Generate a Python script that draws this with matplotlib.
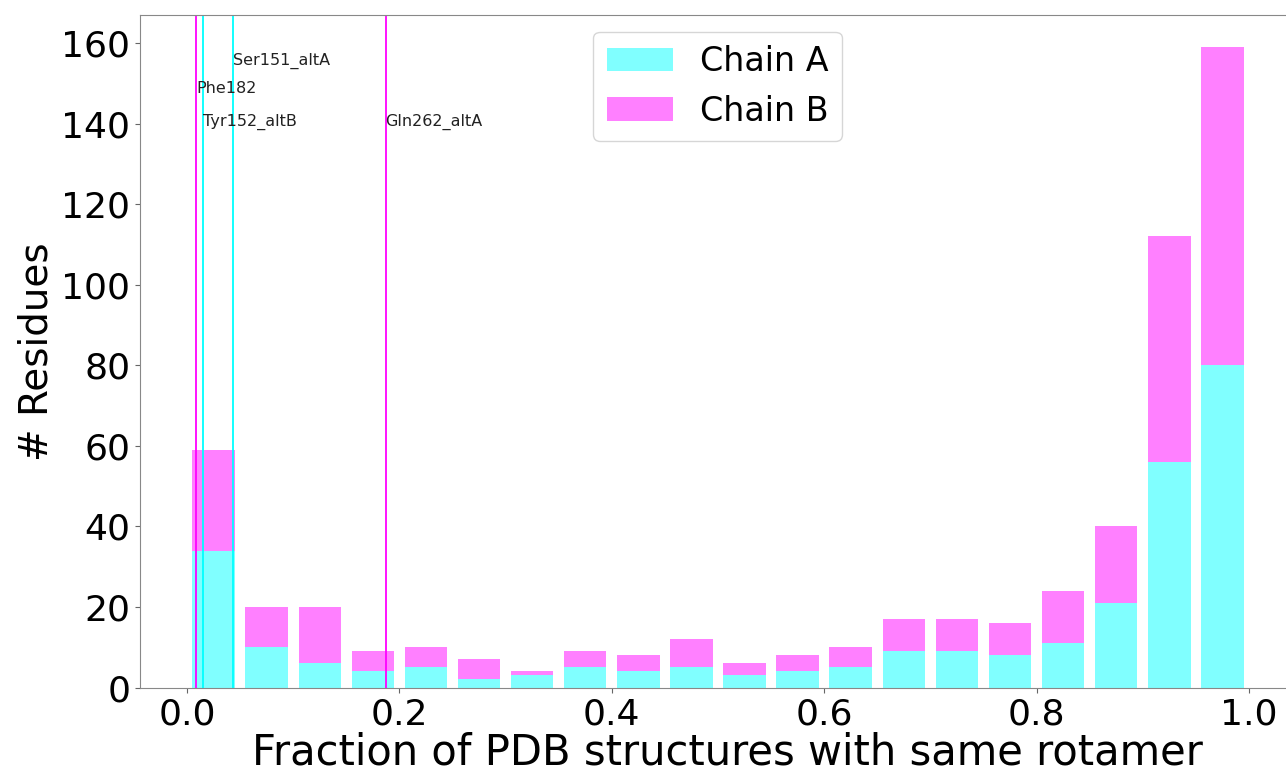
import matplotlib
matplotlib.use("Agg")
import matplotlib.pyplot as plt
import numpy as np

bin_centers = [0.025, 0.075, 0.125, 0.175, 0.225, 0.275, 0.325, 0.375, 0.425, 0.475,
               0.525, 0.575, 0.625, 0.675, 0.725, 0.775, 0.825, 0.875, 0.925, 0.975]
chain_a = [34, 10, 6, 4, 5, 2, 3, 5, 4, 5, 3, 4, 5, 9, 9, 8, 11, 21, 56, 80]
chain_b = [25, 10, 14, 5, 5, 5, 1, 4, 4, 7, 3, 4, 5, 8, 8, 8, 13, 19, 56, 79]

marker_names = ["Phe182", "Tyr152_altB", "Ser151_altA", "Gln262_altA"]
marker_x = [0.0085, 0.0148, 0.0437, 0.187]
marker_chain = ["B", "A", "A", "B"]
marker_text_y = [147.5, 139.5, 154.5, 139.5]

color_a = "#80ffff"
color_b = "#ff80ff"
line_a = "#00ffff"
line_b = "#ff00ff"

fig = plt.figure(figsize=(12.86, 7.74), dpi=100)
ax = fig.add_axes([140 / 1286, 1 - 687.5 / 774, 1175 / 1286, 672.5 / 774])

ax.bar(bin_centers, chain_a, width=0.04, color=color_a, label="Chain A")
ax.bar(bin_centers, chain_b, width=0.04, bottom=chain_a, color=color_b, label="Chain B")

for name, xv, ch, ty in zip(marker_names, marker_x, marker_chain, marker_text_y):
    ax.axvline(xv, color=line_a if ch == "A" else line_b, linewidth=1.3)
    ax.text(xv, ty, name, fontsize=11.5, color="#222222")

ax.set_xlim(-0.0443, 1.0622)
ax.set_ylim(0, 166.95)
ax.set_xticks([0.0, 0.2, 0.4, 0.6, 0.8, 1.0])
ax.set_yticks([0, 20, 40, 60, 80, 100, 120, 140, 160])
ax.tick_params(labelsize=26, color="#666666")
for s in ax.spines.values():
    s.set_color("#888888")
ax.spines["right"].set_visible(False)
ax.set_xlabel("Fraction of PDB structures with same rotamer", fontsize=30, labelpad=0)
ax.set_ylabel("# Residues", fontsize=28)

leg = ax.legend(loc="upper center", fontsize=24, bbox_to_anchor=(0.4915, 1.0))

fig.savefig("out.png", dpi=100)
